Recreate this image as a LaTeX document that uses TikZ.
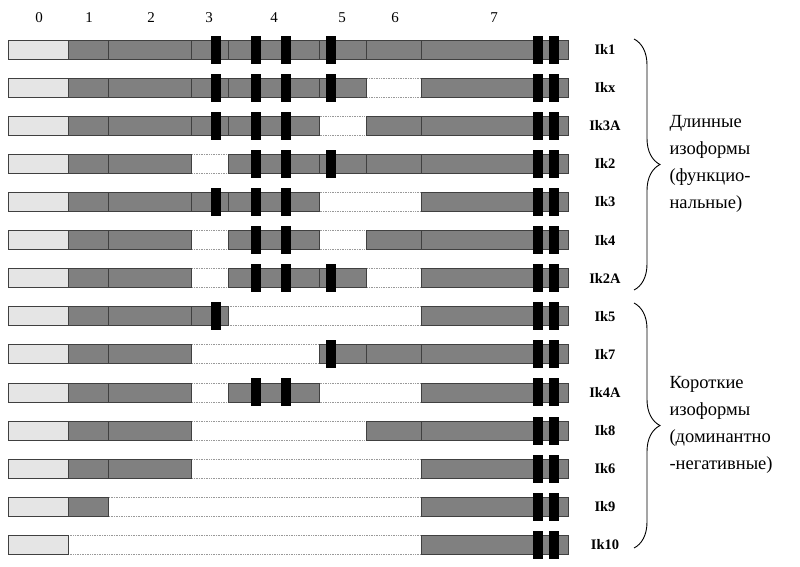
\documentclass[tikz,border=0pt]{standalone}
\usepackage{fontspec}
\setmainfont{Liberation Serif}
\usetikzlibrary{decorations.pathreplacing}

\begin{document}
\begin{tikzpicture}[x=1pt,y=-1pt,
    exon/.style={draw=black!75,line width=0.8pt,fill=black!50},
    utr/.style={draw=black!75,line width=0.8pt,fill=black!10},
    gap/.style={draw=black!40,line width=0.7pt,densely dotted},
    site/.style={fill=black},
    isoname/.style={font=\bfseries\fontsize{14.5}{14.5}\selectfont},
    exnum/.style={font=\fontsize{15}{15}\selectfont},
    grouptext/.style={align=left,anchor=west,font=\fontsize{18.5}{27}\selectfont},
    grpbrace/.style={decorate,decoration={brace,amplitude=26pt},line width=0.9pt}]

  \useasboundingbox (0,0) rectangle (800,566);
  \def\exb{{8,68,108,191,228,319,366,421,568}}

  \foreach \n/\x in {0/39,1/89,2/151,3/209,4/274,5/342,6/395,7/494}
    \node[exnum] (num\n) at (\x,18) {\n};

  \foreach \name/\exs/\sites [count=\i] in {
      Ik1/{0,1,2,3,4,5,6,7}/{216,256,286,331},
      Ikx/{0,1,2,3,4,5,7}/{216,256,286,331},
      Ik3A/{0,1,2,3,4,6,7}/{216,256,286},
      Ik2/{0,1,2,4,5,6,7}/{256,286,331},
      Ik3/{0,1,2,3,4,7}/{216,256,286},
      Ik4/{0,1,2,4,6,7}/{256,286},
      Ik2A/{0,1,2,4,5,7}/{256,286,331},
      Ik5/{0,1,2,3,7}/{216},
      Ik7/{0,1,2,5,6,7}/{331},
      Ik4A/{0,1,2,4,7}/{256,286},
      Ik8/{0,1,2,6,7}/{538},
      Ik6/{0,1,2,7}/{538},
      Ik9/{0,1,7}/{538},
      Ik10/{0,7}/{538}}{
    \pgfmathsetmacro{\yc}{49.5+38.1*(\i-1)}
    \fill[white] (68,\yc-9.5) rectangle (421,\yc+9.5);
    \draw[gap] (68,\yc-9.5) -- (421,\yc-9.5) (68,\yc+9.5) -- (421,\yc+9.5);
    \foreach \e in \exs {
      \pgfmathsetmacro{\xa}{\exb[\e]}
      \pgfmathsetmacro{\xb}{\exb[\e+1]}
      \ifnum\e=0
        \draw[utr] (\xa,\yc-9.5) rectangle (\xb,\yc+9.5);
      \else
        \draw[exon] (\xa,\yc-9.5) rectangle (\xb,\yc+9.5);
      \fi
    }
    \foreach \s in \sites
      \fill[site] (\s-5,\yc-14) rectangle (\s+5,\yc+14);
    \foreach \s in {538,554}
      \fill[site] (\s-5,\yc-14) rectangle (\s+5,\yc+14);
    \node[isoname] (iso\i) at (605,\yc) {\name};
  }

  \coordinate (topA) at (634,39);
  \coordinate (botA) at (634,290);
  \coordinate (topB) at (634,303);
  \coordinate (botB) at (634,548);
  \draw[grpbrace] (topA) -- (botA);
  \draw[grpbrace] (topB) -- (botB);

  \node[grouptext] (longtxt) at (666,164) {Длинные\\изоформы\\(функцио-\\нальные)};
  \node[grouptext] (shorttxt) at (666,425) {Короткие\\изоформы\\(доминантно\\-негативные)};
\end{tikzpicture}
\end{document}
